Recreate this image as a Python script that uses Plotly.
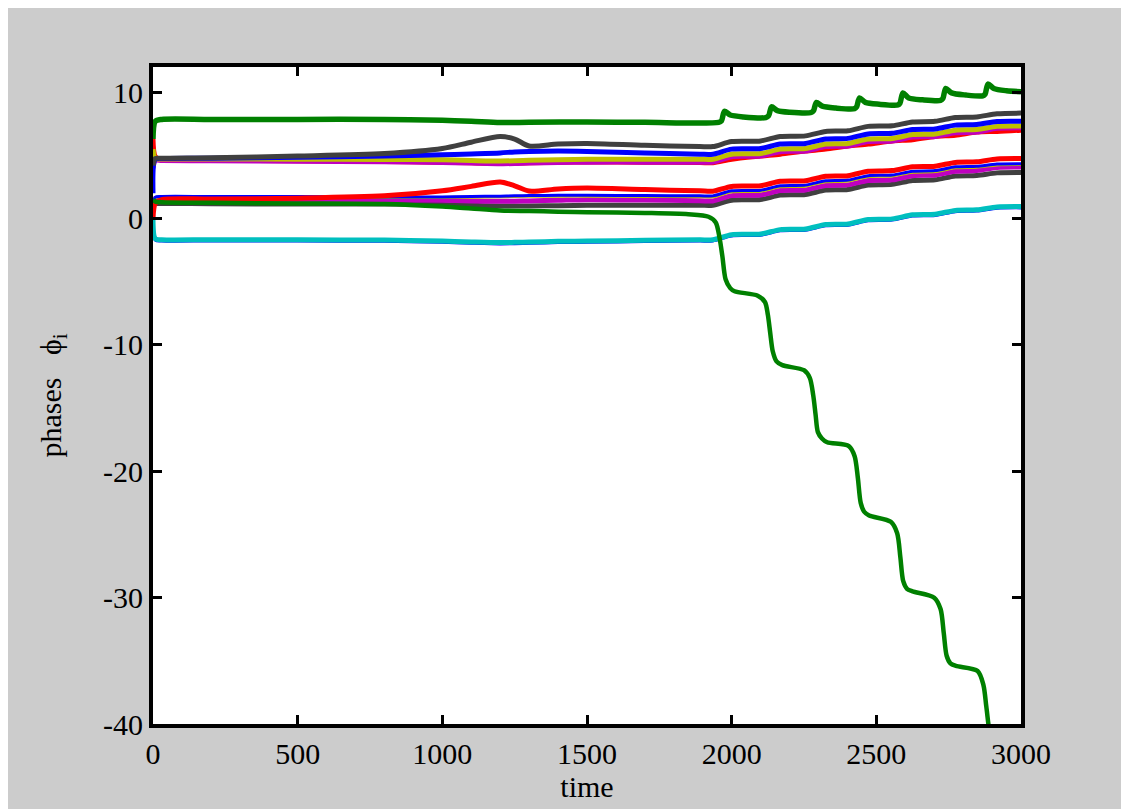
import plotly.graph_objects as go

# ---------------- data ----------------
T_EARLY = [0, 8, 30, 200, 500, 800, 1000, 1100, 1200, 1250, 1300, 1400, 1500, 1700, 1890]
T_LATE = [1935, 2000, 2100, 2168, 2255, 2325, 2402, 2472, 2555, 2625, 2703, 2773, 2847, 2917, 3000]

# upper cluster
gray_up_e = [4.2, 4.75, 4.78, 4.82, 4.95, 5.15, 5.55, 6.05, 6.5, 6.3, 5.75, 5.9, 5.95, 5.8, 5.7]
gray_up_l = [5.7, 6.1, 6.15, 6.5, 6.55, 6.9, 6.95, 7.3, 7.35, 7.65, 7.7, 8.0, 8.05, 8.3, 8.35]
blue_up_e = [2.0, 4.7, 4.75, 4.78, 4.85, 4.95, 5.05, 5.12, 5.2, 5.28, 5.32, 5.35, 5.32, 5.2, 5.1]
blue_up_l = [5.1, 5.5, 5.55, 5.9, 5.95, 6.3, 6.35, 6.7, 6.75, 7.05, 7.1, 7.4, 7.45, 7.68, 7.7]
yel_up_e = [5.5, 4.75, 4.72, 4.72, 4.7, 4.68, 4.65, 4.6, 4.56, 4.58, 4.62, 4.66, 4.7, 4.7, 4.7]
yel_up_l = [4.7, 5.1, 5.15, 5.5, 5.55, 5.9, 5.95, 6.3, 6.35, 6.65, 6.7, 7.0, 7.05, 7.3, 7.33]
mag_up_e = [4.0, 4.6, 4.6, 4.58, 4.55, 4.5, 4.45, 4.4, 4.35, 4.36, 4.4, 4.45, 4.47, 4.47, 4.47]
mag_up_l = [4.47, 4.9, 4.95, 5.3, 5.35, 5.7, 5.75, 6.1, 6.15, 6.45, 6.5, 6.8, 6.85, 7.15, 7.2]
red_up_e = [6.3, 4.9, 4.65, 4.62, 4.58, 4.52, 4.47, 4.42, 4.38, 4.4, 4.42, 4.46, 4.48, 4.47, 4.45]
red_up_l = [4.42, 4.7, 4.95, 5.1, 5.35, 5.5, 5.75, 5.9, 6.15, 6.25, 6.5, 6.6, 6.85, 6.9, 7.0]

# lower cluster
red_lo_e = [0.0, 1.2, 1.5, 1.55, 1.62, 1.8, 2.2, 2.55, 2.9, 2.6, 2.18, 2.35, 2.42, 2.3, 2.2]
red_lo_l = [2.17, 2.55, 2.6, 2.95, 3.0, 3.35, 3.4, 3.75, 3.8, 4.1, 4.15, 4.45, 4.5, 4.72, 4.75]
blue_lo_e = [1.0, 1.7, 1.75, 1.75, 1.75, 1.72, 1.72, 1.75, 1.78, 1.8, 1.82, 1.85, 1.85, 1.82, 1.8]
blue_lo_l = [1.8, 2.2, 2.25, 2.6, 2.65, 3.0, 3.05, 3.4, 3.45, 3.75, 3.8, 4.1, 4.15, 4.32, 4.35]
yel_lo_e = [1.3, 1.68, 1.7, 1.7, 1.7, 1.68, 1.68, 1.7, 1.73, 1.75, 1.77, 1.78, 1.78, 1.76, 1.74]
yel_lo_l = [1.72, 2.12, 2.17, 2.52, 2.57, 2.92, 2.97, 3.32, 3.37, 3.67, 3.72, 4.02, 4.07, 4.25, 4.28]
mag_lo_e = [1.6, 1.55, 1.55, 1.54, 1.52, 1.5, 1.45, 1.4, 1.37, 1.38, 1.4, 1.45, 1.5, 1.47, 1.42]
mag_lo_l = [1.4, 1.82, 1.87, 2.22, 2.27, 2.62, 2.67, 3.02, 3.07, 3.4, 3.45, 3.75, 3.8, 4.05, 4.08]
gray_lo_e = [1.2, 1.2, 1.2, 1.18, 1.15, 1.15, 1.12, 1.05, 1.0, 1.0, 1.0, 1.02, 1.05, 1.06, 1.06]
gray_lo_l = [1.06, 1.46, 1.51, 1.86, 1.91, 2.26, 2.31, 2.66, 2.71, 3.02, 3.07, 3.37, 3.42, 3.62, 3.65]

# cyan and the thin blue beneath it
cyan_e = [0.0, -1.6, -1.67, -1.67, -1.68, -1.7, -1.78, -1.85, -1.9, -1.88, -1.85, -1.8, -1.78, -1.72, -1.68]
cyan_l = [-1.67, -1.27, -1.22, -0.87, -0.82, -0.47, -0.42, -0.07, -0.02, 0.3, 0.35, 0.65, 0.7, 0.92, 0.95]
blue_cy_e = [-0.2, -1.7, -1.77, -1.77, -1.78, -1.8, -1.88, -1.95, -2.0, -1.98, -1.95, -1.9, -1.88, -1.82, -1.78]
blue_cy_l = [-1.77, -1.37, -1.32, -0.97, -0.92, -0.57, -0.52, -0.17, -0.12, 0.2, 0.25, 0.55, 0.6, 0.82, 0.85]

# top green (sawtooth)
green_top_t = [0, 8, 30, 200, 500, 800, 1000, 1100, 1200, 1300, 1500, 1700, 1955,
               1965, 1975, 1995, 2040, 2118,
               2128, 2138, 2158, 2200, 2275,
               2283, 2293, 2313, 2360, 2425,
               2432, 2442, 2462, 2510, 2575,
               2582, 2592, 2612, 2660, 2722,
               2730, 2740, 2760, 2810, 2868,
               2876, 2886, 2906, 2950, 3000]
green_top_v = [6.3, 7.7, 7.85, 7.85, 7.85, 7.85, 7.78, 7.7, 7.6, 7.62, 7.65, 7.62, 7.62,
               7.75, 8.5, 8.2, 8.05, 8.0,
               8.15, 8.85, 8.55, 8.42, 8.4,
               8.55, 9.2, 8.9, 8.75, 8.7,
               8.85, 9.55, 9.2, 9.05, 9.0,
               9.15, 9.95, 9.55, 9.4, 9.35,
               9.5, 10.3, 9.95, 9.78, 9.72,
               9.85, 10.65, 10.3, 10.12, 10.05]

# falling green (phase slips)
green_drop_t = [0, 8, 30, 200, 500, 800, 1000, 1100, 1200, 1300, 1400, 1500, 1700, 1850, 1920,
                1945, 1958, 1968, 1979, 1995, 2010, 2090,
                2115, 2125, 2133, 2142, 2155, 2175, 2250,
                2270, 2282, 2290, 2298, 2312, 2330, 2405,
                2425, 2436, 2446, 2458, 2475, 2550,
                2572, 2583, 2593, 2606, 2625, 2700,
                2722, 2733, 2743, 2756, 2775, 2850,
                2870, 2880, 2890, 2900]
green_drop_v = [1.5, 1.35, 1.3, 1.25, 1.2, 1.15, 0.95, 0.8, 0.65, 0.6, 0.55, 0.5, 0.45, 0.35, 0.15,
                -0.3, -1.5, -3.0, -4.8, -5.5, -5.75, -6.1,
                -6.6, -7.6, -9.0, -10.5, -11.3, -11.6, -12.0,
                -12.6, -14.0, -15.5, -16.9, -17.4, -17.7, -18.0,
                -18.8, -20.5, -22.5, -23.2, -23.5, -24.0,
                -24.9, -26.8, -28.7, -29.3, -29.5, -30.0,
                -30.9, -32.8, -34.6, -35.2, -35.4, -35.8,
                -36.9, -38.6, -40.5, -42.0]

X_TICKS = [0, 500, 1000, 1500, 2000, 2500, 3000]
X_LABELS = ["0", "500", "1000", "1500", "2000", "2500", "3000"]
Y_TICKS = [-40, -30, -20, -10, 0, 10]
Y_LABELS = ["-40", "-30", "-20", "-10", "0", "10"]

# MATLAB classic colour order
C_BLUE = "rgb(0,0,255)"
C_GREEN = "rgb(0,128,0)"
C_RED = "rgb(255,0,0)"
C_CYAN = "rgb(0,191,191)"
C_MAG = "rgb(191,0,191)"
C_YEL = "rgb(191,191,0)"
C_GRAY = "rgb(64,64,64)"

fig = go.Figure()


def add(t, v, color, width=5):
    fig.add_trace(go.Scatter(x=t, y=v, mode="lines",
                             line=dict(color=color, width=width, shape="spline", smoothing=0.8),
                             showlegend=False, hoverinfo="skip"))


add(T_EARLY + T_LATE, blue_cy_e + blue_cy_l, C_BLUE, 3)
add(T_EARLY + T_LATE, cyan_e + cyan_l, C_CYAN, 5)

add(T_EARLY + T_LATE, gray_lo_e + gray_lo_l, C_GRAY)
add(T_EARLY + T_LATE, mag_lo_e + mag_lo_l, C_MAG)
add(T_EARLY + T_LATE, yel_lo_e + yel_lo_l, C_YEL, 3)
add(T_EARLY + T_LATE, blue_lo_e + blue_lo_l, C_BLUE, 3)
add(T_EARLY + T_LATE, red_lo_e + red_lo_l, C_RED)

add(green_drop_t, green_drop_v, C_GREEN, 4.5)

add(T_EARLY + T_LATE, red_up_e + red_up_l, C_RED)
add(T_EARLY + T_LATE, mag_up_e + mag_up_l, C_MAG)
add(T_EARLY + T_LATE, yel_up_e + yel_up_l, C_YEL)
add(T_EARLY + T_LATE, blue_up_e + blue_up_l, C_BLUE)
add(T_EARLY + T_LATE, gray_up_e + gray_up_l, C_GRAY)

add(green_top_t, green_top_v, C_GREEN, 5.5)

font = dict(family="Liberation Serif, Times New Roman, serif", size=30, color="black")

fig.update_layout(
    width=1121, height=801,
    margin=dict(l=145, r=108, t=59, b=85),
    paper_bgcolor="#cccccc",
    plot_bgcolor="white",
    font=font,
    xaxis=dict(range=[0, 3000], tickvals=X_TICKS, ticktext=X_LABELS, ticks="inside",
               ticklen=9, tickwidth=3, tickcolor="black", showline=True, linecolor="black",
               linewidth=4, mirror="ticks", showgrid=False, zeroline=False,
               title=dict(text="time", font=font, standoff=2)),
    yaxis=dict(range=[-40, 12], tickvals=Y_TICKS, ticktext=Y_LABELS, ticks="inside",
               ticklen=9, tickwidth=3, tickcolor="black", showline=True, linecolor="black",
               linewidth=4, mirror="ticks", showgrid=False, zeroline=False,
               title=dict(text="phases\u00a0\u00a0\u00a0\u03d5<sub>i</sub>", font=font,
                          standoff=34)),
)

fig.write_html("out.html")
